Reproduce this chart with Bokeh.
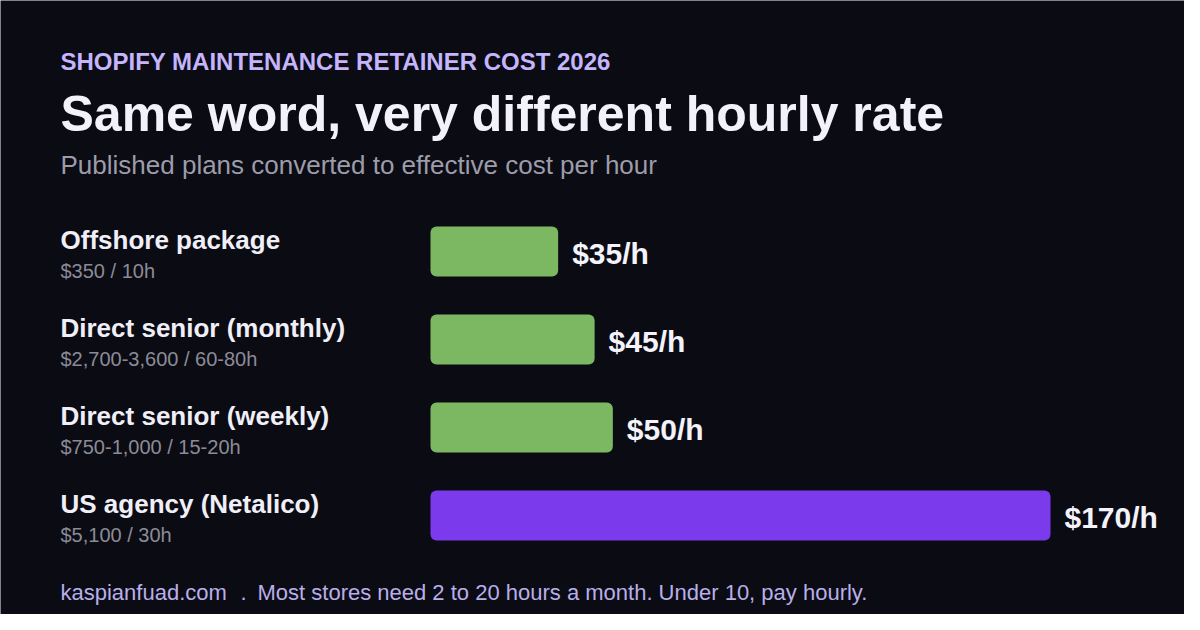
#!/usr/bin/env python3
# -*- coding: utf-8 -*-
from bokeh.core.properties import value
from bokeh.embed import file_html
from bokeh.models import ColumnDataSource, Range1d
from bokeh.plotting import figure
from bokeh.resources import INLINE

KICKER = "SHOPIFY MAINTENANCE RETAINER COST 2026"
TITLE = "Same word, very different hourly rate"
SUBTITLE = "Published plans converted to effective cost per hour"

plans = ["Offshore package", "Direct senior (monthly)", "Direct senior (weekly)", "US agency (Netalico)"]
plan_notes = ["$350 / 10h", "$2,700-3,600 / 60-80h", "$750-1,000 / 15-20h", "$5,100 / 30h"]
hourly_rate = [35, 45, 50, 170]
rate_labels = ["$35/h", "$45/h", "$50/h", "$170/h"]
bar_colors = ["#7cb862", "#7cb862", "#7cb862", "#7c3aed"]

FOOT_SITE = "kaspianfuad.com"
FOOT_SEP = "."
FOOT_NOTE = "Most stores need 2 to 20 hours a month. Under 10, pay hourly."

BG = "#0b0b13"
FONT = value("Liberation Sans")
W, H = 1184, 614
BAR_X0 = 430              # canvas x where the value axis starts
PX_PER = 620 / 170        # pixels per $ of hourly rate
ROW0, ROW_STEP = 251, 88  # canvas y of first bar center, row spacing


def px(xc):
    # canvas x pixel -> value units on the x range
    return (xc - BAR_X0) / PX_PER


p = figure(
    width=W,
    height=H,
    output_backend="svg",
    toolbar_location=None,
    x_axis_location=None,
    y_axis_location=None,
    min_border=0,
    x_range=Range1d(px(0), px(W)),
    y_range=Range1d(H, 0),
)
p.grid.visible = False
p.outline_line_color = None
p.background_fill_color = BG
p.border_fill_color = BG

rows = [ROW0 + ROW_STEP * i for i in range(len(plans))]
src = ColumnDataSource(data={
    "y": rows,
    "rate": hourly_rate,
    "color": bar_colors,
    "plan": plans,
    "note": plan_notes,
    "rate_label": rate_labels,
    "label_y": [r - 11.5 for r in rows],
    "note_y": [r + 19 for r in rows],
    "value_y": [r + 2 for r in rows],
    "lx": [px(60)] * len(plans),
})

p.hbar(y="y", left=0, right="rate", height=50, source=src, fill_color="color",
       line_color=None, border_radius=6)

p.text(x="lx", y="label_y", text="plan", source=src, text_font=FONT, text_font_style="bold",
       text_font_size="26px", text_color="#f0eff8", text_baseline="middle")
p.text(x="lx", y="note_y", text="note", source=src, text_font=FONT,
       text_font_size="20px", text_color="#8b8b97", text_baseline="middle")
p.text(x="rate", y="value_y", text="rate_label", source=src, text_font=FONT, text_font_style="bold",
       text_font_size="30px", text_color="#f4f3fb", text_baseline="middle", x_offset=14)

# header
p.text(x=[px(60)], y=[61], text=[KICKER], text_font=FONT, text_font_style="bold",
       text_font_size="24px", text_color="#c4b5fd", text_baseline="middle")
p.text(x=[px(60)], y=[113.5], text=[TITLE], text_font=FONT, text_font_style="bold",
       text_font_size="50px", text_color="#f3f2fa", text_baseline="middle")
p.text(x=[px(60)], y=[164.5], text=[SUBTITLE], text_font=FONT,
       text_font_size="26px", text_color="#9d9caa", text_baseline="middle")

# footer
p.text(x=[px(60), px(240), px(257)], y=[592] * 3, text=[FOOT_SITE, FOOT_SEP, FOOT_NOTE],
       text_font=FONT, text_font_size="22px", text_color="#b9afea", text_baseline="middle")

html = file_html(p, INLINE, title=TITLE)
html = html.replace("<body>", '<body style="background-color:%s;">' % BG, 1)
open("out.html", "w").write(html)
